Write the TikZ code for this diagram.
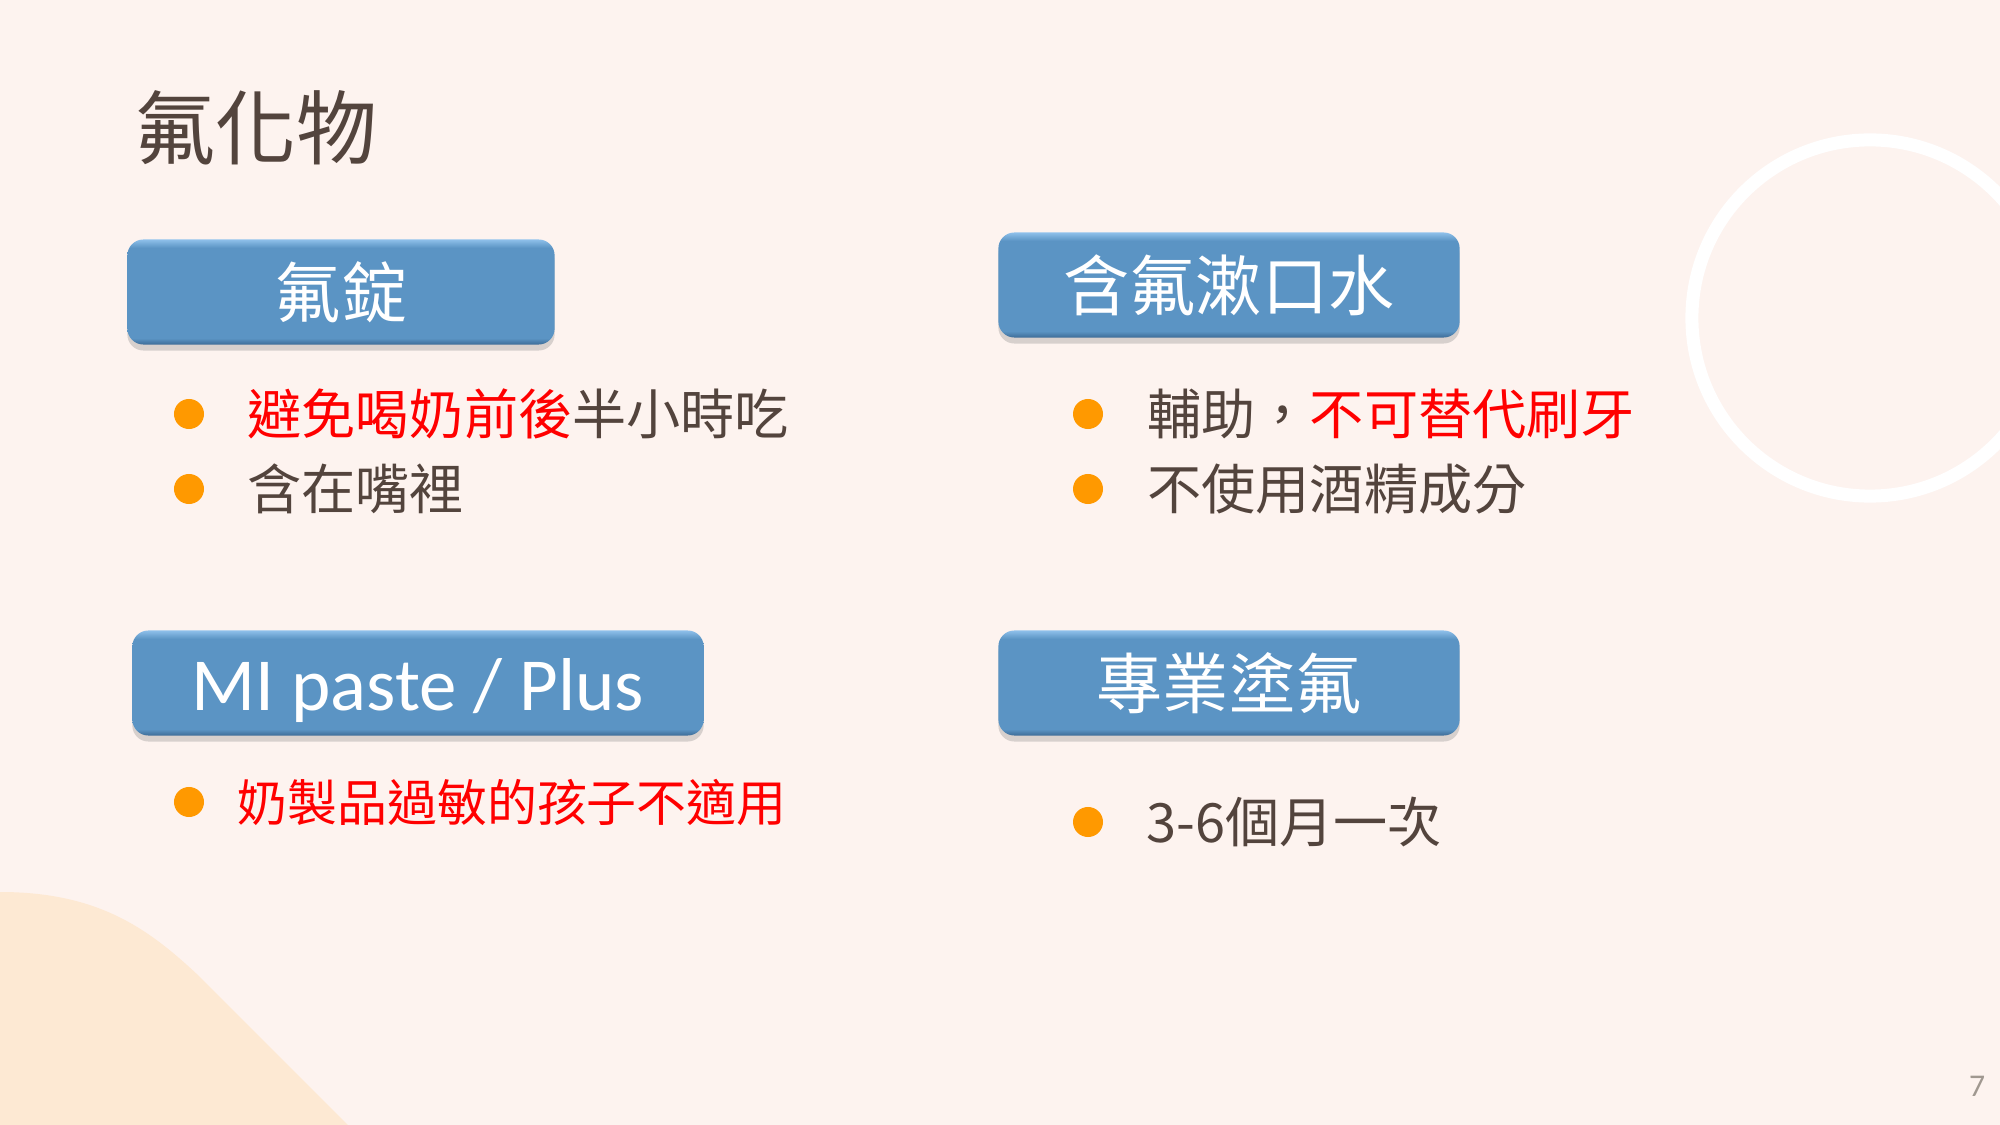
\documentclass[tikz,border=0pt]{standalone}
\usepackage{fontspec}
\setmainfont{Noto Sans CJK TC}
\newfontfamily\latinfont{Carlito}
\usetikzlibrary{positioning,shadows}
\definecolor{slidebg}{HTML}{FDF3EF}
\definecolor{blob}{HTML}{FDE9D3}
\definecolor{ink}{HTML}{53443D}
\definecolor{alert}{HTML}{FF0000}
\definecolor{dotorange}{HTML}{FF9900}
\definecolor{boxblue}{HTML}{5B94C4}
\definecolor{boxlight}{HTML}{8EC0EA}
\definecolor{boxdark}{HTML}{3D6C97}
\definecolor{pagegray}{HTML}{A09890}
\pgfdeclareverticalshading{bevel}{100bp}{color(0bp)=(boxdark); color(25bp)=(boxdark); color(28bp)=(boxblue); color(71bp)=(boxblue); color(75bp)=(boxlight); color(100bp)=(boxlight)}
\tikzset{
  headbox/.style={shading=bevel, rounded corners=0.16cm, minimum height=1.05cm,
    text=white, inner sep=0pt, font=\fontsize{18.8}{22}\selectfont,
    drop shadow={shadow xshift=0cm, shadow yshift=-0.06cm, opacity=0.3}},
  bullet/.style={circle, fill=dotorange, minimum size=0.3cm, inner sep=0pt},
  item/.style={anchor=west, inner sep=0pt, text=ink, font=\fontsize{15.4}{18}\selectfont},
}
\begin{document}
\begin{tikzpicture}[x=0.01cm, y=-0.01cm]
  \useasboundingbox (0,0) rectangle (2000,1125);
  \fill[slidebg] (0,0) rectangle (2000,1125);
  \fill[blob] (0,892) .. controls (100,892) and (150,930) .. (200,977) -- (348,1125) -- (0,1125) -- cycle;
  \begin{scope}
    \clip (0,0) rectangle (2000,1125);
    \draw[white, line width=0.13cm] (1870,318) circle [radius=1.78cm];
  \end{scope}

  \node[anchor=west, inner sep=0pt, text=ink, font=\fontsize{23}{28}\selectfont] (title) at (134,128) {氟化物};

  \node[headbox, minimum width=4.27cm] (tablet) at (341,292) {氟錠};
  \node[headbox, minimum width=4.61cm] (rinse) at (1229,285) {含氟漱口水};
  \node[headbox, minimum width=5.71cm, text height=0.54cm, text depth=0pt,
    font=\latinfont\fontsize{21.3}{25}\selectfont] (paste) at (418,683) {MI paste / Plus};
  \node[headbox, minimum width=4.61cm] (varnish) at (1229,683) {專業塗氟};

  \node[bullet] (tabletdotA) at (189,414) {};
  \node[item, right=0.42cm of tabletdotA] (tablettextA) {{\color{alert}避免喝奶前後}半小時吃};
  \node[bullet] (tabletdotB) at (189,489) {};
  \node[item, right=0.42cm of tabletdotB] (tablettextB) {含在嘴裡};

  \node[bullet] (rinsedotA) at (1088,414) {};
  \node[item, right=0.43cm of rinsedotA] (rinsetextA) {輔助，{\color{alert}不可替代刷牙}};
  \node[bullet] (rinsedotB) at (1088,489) {};
  \node[item, right=0.43cm of rinsedotB] (rinsetextB) {不使用酒精成分};

  \node[bullet] (pastedot) at (189,802) {};
  \node[item, right=0.32cm of pastedot, text=alert, font=\fontsize{14.2}{17}\selectfont] (pastetext) {奶製品過敏的孩子不適用};

  \node[bullet] (varnishdot) at (1088,822) {};
  \node[item, right=0.42cm of varnishdot] (varnishtext) {3-6個月一次};

  \node[text=pagegray, inner sep=0pt, font=\latinfont\fontsize{9}{11}\selectfont] (pagenum) at (1977,1086) {7};
\end{tikzpicture}
\end{document}
